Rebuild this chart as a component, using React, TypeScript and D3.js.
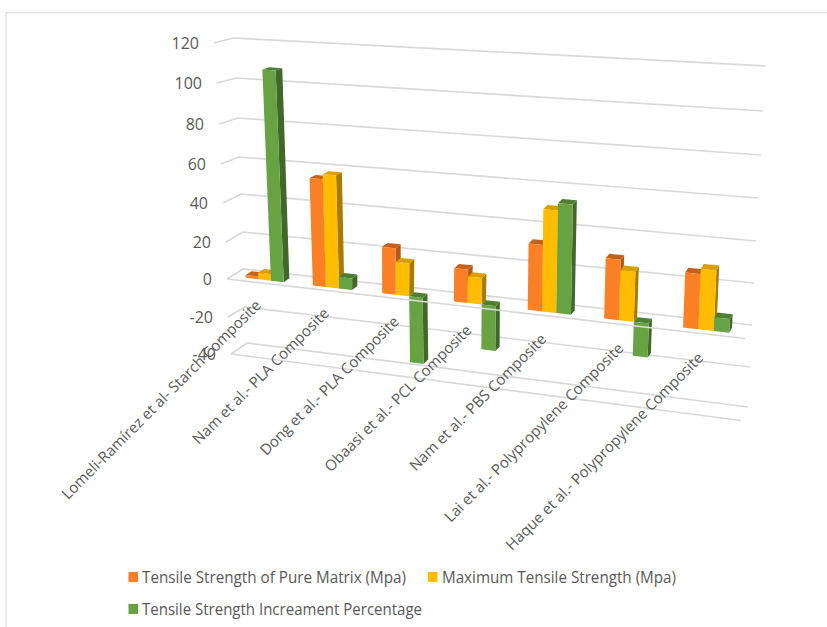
import React from "react";
import * as d3 from "d3";

// Categories and the three plotted series
const categories = [
  "Lomeli-Ramírez et al- Starch Composite",
  "Nam et al.- PLA Composite",
  "Dong et al.- PLA Composite",
  "Obaasi et al.- PCL Composite",
  "Nam et al.- PBS Composite",
  "Lai et al.- Polypropylene Composite",
  "Haque et al.- Polypropylene Composite",
];
const pureMatrix = [1.5, 55.5, 24, 17, 33, 29.5, 26.5];
const maxStrength = [3.5, 58, 17, 13.5, 50.5, 24.5, 29];
const increment = [107.5, 6, -34, -22.5, 54, -16.5, 6.5];
const seriesNames = [
  "Tensile Strength of Pure Matrix (Mpa)",
  "Maximum Tensile Strength (Mpa)",
  "Tensile Strength Increament Percentage",
];
const axisTicks = [-40, -20, 0, 20, 40, 60, 80, 100, 120];

const WIDTH = 827;
const HEIGHT = 627;
const GRID = "#D9D9D9";
const TEXT = "#595959";
const FONT = "'Open Sans', sans-serif";

const faceColors = [
  { front: "#F98024", side: "#B5591A", top: "#C4611C" },
  { front: "#FFBC00", side: "#A87B00", top: "#DB9E00" },
  { front: "#68A343", side: "#41672B", top: "#4F7F33" },
];

// Edges of the 3D box, each sampled at every axis tick
const piece = (range: number[]) => d3.scaleLinear().domain(axisTicks).range(range);
const frontLeftX = piece([231, 228, 227, 226, 223, 221, 219, 217, 214]);
const frontLeftY = piece([354, 317, 279, 242, 203, 164, 124, 83, 43]);
const backLeftX = piece([247, 245, 243, 243, 241, 239, 238, 236, 233]);
const backLeftY = piece([343, 307, 269, 232, 194, 157, 118, 78, 38]);
const backRightX = piece([748, 750, 752, 754, 756, 758, 761, 763, 765]);
const backRightY = piece([407, 367, 325, 283, 241, 198, 155, 111, 66]);
const frontRightX = (v: number) => backRightX(v) - 7;
const frontRightY = (v: number) => backRightY(v) + 13.5;

// Horizontal foreshortening along the category axis
const KEYSTONE = 1.12;
const foreshorten = (u: number) => u / (KEYSTONE + (1 - KEYSTONE) * u);

const lerp = d3.interpolateNumber;
type Pt = [number, number];
const project = (u: number, v: number, depth: number): Pt => {
  const s = foreshorten(u);
  const lx = lerp(frontLeftX(v), backLeftX(v))(depth);
  const ly = lerp(frontLeftY(v), backLeftY(v))(depth);
  const rx = lerp(frontRightX(v), backRightX(v))(depth);
  const ry = lerp(frontRightY(v), backRightY(v))(depth);
  return [lerp(lx, rx)(s), lerp(ly, ry)(s)];
};

const groupBand = d3.scaleBand<string>().domain(categories).range([0, 1]).paddingInner(0.43).paddingOuter(0.215);
const seriesBand = d3.scaleBand<number>().domain([0, 1, 2]).range([0, groupBand.bandwidth()]);
const DEPTH_FRONT = 0.28;
const DEPTH_BACK = 0.65;

const polygon = d3.line<Pt>().curve(d3.curveLinearClosed);
const polyline = d3.line<Pt>();

const Bar = ({ cat, idx, value }: { cat: string; idx: number; value: number }) => {
  const u0 = (groupBand(cat) as number) + (seriesBand(idx) as number);
  const u1 = u0 + seriesBand.bandwidth();
  const hi = Math.max(value, 0);
  const lo = Math.min(value, 0);
  const c = faceColors[idx];
  const front = [project(u0, hi, DEPTH_FRONT), project(u1, hi, DEPTH_FRONT), project(u1, lo, DEPTH_FRONT), project(u0, lo, DEPTH_FRONT)];
  const side = [project(u1, hi, DEPTH_FRONT), project(u1, hi, DEPTH_BACK), project(u1, lo, DEPTH_BACK), project(u1, lo, DEPTH_FRONT)];
  const top = [project(u0, hi, DEPTH_FRONT), project(u0, hi, DEPTH_BACK), project(u1, hi, DEPTH_BACK), project(u1, hi, DEPTH_FRONT)];
  return (
    <g>
      <path d={polygon(side) as string} fill={c.side} />
      <path d={polygon(top) as string} fill={c.top} />
      <path d={polygon(front) as string} fill={c.front} />
    </g>
  );
};

const legendItems = [
  { x: 128.5, y: 577, textX: 142, len: 264 },
  { x: 428, y: 577, textX: 442, len: 234 },
  { x: 128.5, y: 609, textX: 142, len: 280 },
];

export default function App() {
  const seriesValues = [pureMatrix, maxStrength, increment];
  return (
    <svg width={WIDTH} height={HEIGHT} style={{ position: "absolute", left: 0, top: 0, display: "block", background: "#fff" }}>
      <path d={`M${WIDTH},12.5H6V${HEIGHT}`} fill="none" stroke="#E2E2E2" strokeWidth={1.5} />

      {axisTicks.map((v) => (
        <g key={v}>
          <path
            d={polyline([[frontLeftX(v), frontLeftY(v)], [backLeftX(v), backLeftY(v)], [backRightX(v), backRightY(v)]]) as string}
            fill="none"
            stroke={GRID}
            strokeWidth={1.7}
          />
          <text x={frontLeftX(v) - 15} y={frontLeftY(v)} dominantBaseline="central" textAnchor="end" fontFamily={FONT} fontSize={16} fill={TEXT}>
            {v}
          </text>
        </g>
      ))}
      <path d={polyline([[frontLeftX(-40), frontLeftY(-40)], [frontRightX(-40), frontRightY(-40)]]) as string} fill="none" stroke={GRID} strokeWidth={1.7} />

      {categories.map((cat, i) => (
        <g key={cat}>
          {seriesValues.map((vals, s) => (
            <Bar key={s} cat={cat} idx={s} value={vals[i]} />
          ))}
        </g>
      ))}

      <path d={polyline([[frontLeftX(0), frontLeftY(0)], [frontRightX(0), frontRightY(0)]]) as string} fill="none" stroke={GRID} strokeWidth={1.7} />

      {categories.map((cat) => {
        const centre = (groupBand(cat) as number) + groupBand.bandwidth() / 2;
        const [x, y] = project(centre, -10, 0);
        return (
          <text key={cat} transform={`translate(${x - 3},${y}) rotate(-45)`} textAnchor="end" dominantBaseline="central" fontFamily={FONT} fontSize={15} fill={TEXT}>
            {cat}
          </text>
        );
      })}

      {seriesNames.map((name, i) => {
        const it = legendItems[i];
        return (
          <g key={name}>
            <rect x={it.x} y={it.y - 5} width={9.5} height={10} fill={faceColors[i].front} />
            <text x={it.textX} y={it.y} dominantBaseline="central" fontFamily={FONT} fontSize={16} fill={TEXT} textLength={it.len} lengthAdjust="spacingAndGlyphs">
              {name}
            </text>
          </g>
        );
      })}
    </svg>
  );
}
